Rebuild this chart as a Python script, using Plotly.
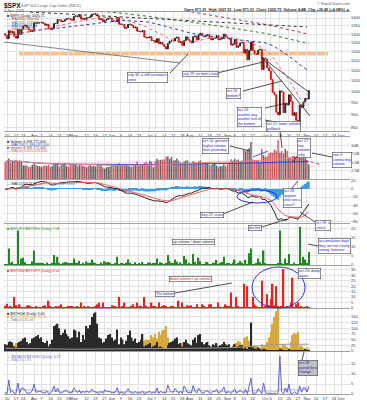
import numpy as np
import pandas as pd
import plotly.graph_objects as go

W, H = 367, 400
def px(v): return v / W
def py(v): return 1 - v / H

HOLIDAYS = {"2008-03-21", "2008-05-26", "2008-07-04", "2008-09-01", "2008-11-27", "2008-12-25"}
all_days = [d for d in pd.bdate_range("2008-03-07", "2008-12-31") if d.strftime("%Y-%m-%d") not in HOLIDAYS]
day_index = {d.strftime("%Y-%m-%d"): i for i, d in enumerate(all_days)}

prev_close_mar6 = 1304.34
close = [
    # Mar
    1293.4, 1273.4, 1320.7, 1308.8, 1315.5, 1288.1, 1276.6, 1330.7, 1298.4, 1329.5, 1349.9, 1353.0, 1341.1, 1325.8, 1315.2, 1322.7,
    # Apr
    1370.2, 1367.5, 1369.3, 1370.4, 1372.5, 1365.5, 1354.5, 1360.6, 1332.8, 1328.3, 1334.4, 1364.7, 1365.6, 1390.3, 1388.2, 1375.9,
    1379.9, 1388.8, 1397.8, 1396.4, 1390.9, 1385.6,
    # May
    1409.3, 1413.9, 1407.5, 1418.3, 1392.6, 1397.7, 1388.3, 1403.6, 1403.0, 1408.7, 1423.6, 1425.4, 1426.6, 1413.4, 1390.7, 1394.4,
    1375.9, 1385.4, 1390.8, 1398.3, 1400.4,
    # Jun
    1385.7, 1377.7, 1377.2, 1404.1, 1360.7, 1361.8, 1358.4, 1335.5, 1339.9, 1360.0, 1360.1, 1350.9, 1337.8, 1342.8, 1317.9, 1318.0,
    1314.3, 1322.0, 1283.2, 1278.4, 1280.0,
    # Jul
    1284.9, 1261.5, 1262.9, 1252.3, 1273.7, 1244.7, 1253.4, 1239.5, 1228.3, 1214.9, 1245.4, 1260.3, 1260.7, 1260.0, 1277.0, 1282.2,
    1252.5, 1257.8, 1234.4, 1263.2, 1284.3, 1267.4,
    # Aug
    1260.3, 1249.0, 1284.9, 1289.2, 1266.1, 1296.3, 1305.3, 1289.6, 1285.8, 1292.9, 1298.2, 1278.6, 1266.7, 1274.5, 1277.7, 1292.2,
    1266.8, 1271.5, 1281.7, 1300.7, 1282.8,
    # Sep
    1277.6, 1275.0, 1236.8, 1242.3, 1267.8, 1224.5, 1232.0, 1249.1, 1251.7, 1192.7, 1213.6, 1156.4, 1206.5, 1255.1, 1207.1, 1188.2,
    1185.9, 1209.2, 1213.3, 1106.4, 1166.4,
    # Oct
    1161.1, 1114.3, 1099.2, 1056.9, 996.2, 984.9, 909.9, 899.2, 1003.4, 998.0, 907.8, 946.4, 940.6, 985.4, 955.1, 896.8,
    908.1, 876.8, 848.9, 940.5, 930.1, 954.1, 968.8,
    # Nov
    966.3, 1005.75,
]

volume_b = [
    5.0, 5.5, 6.1, 4.8, 5.3, 5.2, 5.7, 5.3, 5.6, 5.1, 4.0, 4.1, 4.0, 3.6, 3.7, 4.2,
    4.6, 4.2, 3.9, 3.8, 3.5, 3.9, 4.1, 3.9, 4.2, 3.6, 3.9, 4.6, 4.6, 4.7, 3.7, 4.3, 4.5, 4.7, 3.9, 3.6, 4.2, 4.5,
    4.4, 4.4, 3.9, 4.1, 4.1, 3.9, 3.8, 3.5, 3.9, 4.2, 3.8, 3.9, 3.7, 4.2, 4.5, 4.1, 3.5, 3.1, 3.5, 3.6, 3.7,
    3.9, 4.2, 4.3, 4.4, 4.7, 4.0, 4.1, 4.3, 4.4, 4.0, 3.7, 3.6, 4.1, 4.2, 5.2, 3.9, 4.2, 4.4, 4.8, 5.2, 4.6,
    5.4, 5.2, 3.5, 5.3, 6.0, 5.6, 5.7, 5.8, 5.8, 6.7, 6.8, 6.0, 6.6, 5.5, 5.6, 6.1, 5.5, 4.9, 4.7, 5.2, 5.6, 5.5,
    4.7, 4.6, 5.3, 5.1, 4.7, 5.3, 5.5, 4.7, 4.8, 4.8, 4.7, 4.1, 4.2, 4.5, 4.6, 4.0, 3.6, 3.8, 3.9, 4.4, 3.8,
    4.4, 4.8, 5.9, 5.5, 6.0, 5.6, 5.8, 5.3, 5.5, 8.6, 8.3, 8.8, 9.2, 11.0, 5.8, 5.6, 5.6, 5.7, 5.1, 9.0, 7.1,
    6.6, 6.7, 7.6, 7.9, 7.8, 8.8, 8.3, 11.5, 7.8, 8.3, 7.5, 9.0, 8.3, 6.4, 6.3, 6.8, 6.8, 6.6, 6.6, 7.7, 7.1, 7.0, 6.6,
    5.6, 4.4,
]

up_dn_ratio = [
    0.5, 0.25, 9.0, 0.6, 1.8, 0.1, 0.4, 19.0, 0.3, 3.5, 4.0, 1.5, 0.5, 0.4, 0.5, 2.0,
    8.0, 0.8, 1.3, 1.1, 1.2, 0.6, 0.4, 1.4, 0.15, 0.5, 1.3, 5.5, 1.0, 4.5, 0.7, 0.3, 1.2, 1.5, 1.7, 0.8, 0.6, 0.6,
    3.5, 1.4, 0.6, 2.3, 0.2, 1.3, 0.5, 2.0, 0.7, 1.3, 3.0, 1.4, 1.0, 0.3, 0.2, 1.4, 0.2, 2.1, 1.4, 1.6, 1.3,
    0.4, 0.5, 0.8, 4.5, 0.1, 1.1, 0.6, 0.2, 1.2, 3.0, 1.2, 0.5, 0.3, 1.5, 0.2, 0.6, 0.5, 1.6, 0.1, 0.5, 1.2,
    1.4, 0.2, 0.9, 0.6, 3.6, 0.2, 1.5, 0.6, 0.4, 0.6, 5.5, 2.2, 0.9, 0.8, 3.0, 1.8, 0.15, 1.4, 0.2, 5.0, 3.2, 0.4,
    0.6, 0.4, 6.0, 1.6, 0.3, 4.0, 2.0, 0.3, 0.5, 1.6, 1.7, 0.3, 0.3, 1.3, 1.2, 2.8, 0.2, 1.3, 1.7, 4.5, 0.3,
    0.8, 1.0, 0.07, 1.3, 3.0, 0.1, 1.0, 2.2, 1.2, 0.045, 2.8, 0.05, 6.5, 9.0, 0.1, 0.3, 0.6, 3.5, 1.5, 0.04, 8.0,
    0.6, 0.08, 0.4, 0.12, 0.045, 0.4, 0.05, 0.6, 19.0, 1.0, 0.028, 3.5, 0.7, 6.0, 0.2, 0.036, 1.3, 0.3, 0.2, 21.0, 0.8, 4.5, 3.0,
    0.9, 7.08,
]

new_highs = [
    30, 25, 40, 42, 38, 20, 15, 35, 40, 45, 55, 60, 40, 30, 35, 55,
    60, 65, 70, 55, 60, 40, 35, 45, 20, 30, 50, 110, 115, 120, 100, 70, 80, 95, 75, 65, 55, 60,
    95, 90, 60, 85, 40, 70, 50, 110, 100, 115, 150, 165, 170, 120, 60, 55, 35, 40, 55, 70, 75,
    60, 45, 50, 95, 30, 60, 50, 30, 45, 70, 90, 60, 45, 55, 35, 40, 50, 75, 20, 25, 30,
    35, 15, 20, 25, 40, 15, 20, 15, 10, 8, 25, 35, 40, 45, 55, 60, 30, 35, 20, 40, 50, 35,
    30, 25, 50, 60, 35, 70, 75, 40, 30, 35, 40, 25, 20, 30, 25, 35, 20, 25, 30, 40, 30,
    25, 30, 15, 20, 30, 15, 20, 25, 25, 10, 15, 8, 20, 125, 15, 10, 10, 15, 10, 3, 8,
    5, 3, 3, 2, 1, 2, 1, 1, 8, 5, 1, 3, 2, 6, 3, 1, 2, 1, 1, 3, 2, 4, 5,
    4, 3,
]

new_lows = [
    20, 30, 15, 18, 12, 25, 35, 10, 15, 8, 6, 5, 8, 10, 12, 8,
    5, 4, 4, 4, 3, 5, 6, 5, 8, 9, 6, 3, 3, 2, 3, 4, 4, 3, 3, 3, 4, 4,
    3, 2, 3, 2, 4, 3, 4, 2, 3, 2, 2, 1, 2, 3, 5, 4, 6, 4, 3, 3, 3,
    5, 6, 6, 4, 10, 10, 12, 16, 12, 8, 8, 10, 16, 14, 22, 25, 28, 24, 45, 50, 48,
    50, 70, 60, 75, 55, 85, 70, 90, 95, 110, 60, 40, 35, 30, 20, 18, 30, 28, 35, 20, 15, 18,
    20, 22, 12, 10, 15, 10, 8, 12, 14, 10, 9, 15, 18, 14, 12, 10, 14, 12, 10, 8, 10,
    12, 14, 18, 20, 15, 35, 45, 40, 30, 55, 60, 65, 45, 15, 20, 25, 22, 18, 15, 30, 20,
    25, 40, 60, 85, 120, 150, 175, 190, 20, 15, 30, 25, 18, 12, 40, 70, 80, 75, 85, 20, 25, 15, 12,
    15, 10,
]

adv_dec = [
    0.6, 0.3, 7.0, 0.7, 1.6, 0.3, 0.5, 5.5, 0.3, 2.8, 3.0, 1.6, 0.5, 0.4, 0.6, 1.7,
    5.0, 0.9, 1.2, 1.3, 1.1, 0.6, 0.4, 1.5, 0.2, 0.5, 1.3, 4.0, 1.0, 3.0, 0.8, 0.4, 1.1, 1.6, 1.8, 0.9, 0.6, 0.7,
    3.0, 1.5, 0.7, 2.0, 0.3, 1.4, 0.6, 1.8, 0.8, 1.2, 2.5, 1.3, 1.0, 0.4, 0.3, 1.3, 0.3, 2.0, 1.4, 1.5, 1.2,
    0.5, 0.6, 0.9, 3.2, 0.2, 1.0, 0.6, 0.3, 1.2, 2.6, 1.1, 0.5, 0.4, 1.3, 0.3, 0.7, 0.6, 1.5, 0.2, 0.6, 1.1,
    1.3, 0.3, 0.9, 0.7, 3.0, 0.3, 1.4, 0.7, 0.5, 0.6, 4.5, 2.0, 1.0, 0.9, 2.8, 1.7, 0.3, 1.3, 0.3, 4.0, 2.6, 0.6,
    0.7, 0.5, 4.2, 1.5, 0.4, 3.0, 1.8, 0.4, 0.6, 1.5, 1.6, 0.4, 0.4, 1.3, 1.2, 2.4, 0.3, 1.2, 1.6, 3.5, 0.4,
    0.9, 1.0, 0.2, 1.3, 2.6, 0.2, 1.0, 2.0, 1.2, 0.2, 2.4, 0.1, 4.0, 8.0, 0.2, 0.4, 0.6, 2.8, 1.4, 0.1, 5.5,
    0.7, 0.2, 0.5, 0.3, 0.1, 0.5, 0.1, 0.7, 19.0, 1.0, 0.1, 3.0, 0.8, 5.0, 0.3, 0.2, 1.2, 0.4, 0.3, 4.0, 0.9, 3.2, 3.0,
    1.0, 3.72,
]

# long moving averages (anchor points)
ma200_dates = ["2008-03-07", "2008-04-01", "2008-05-01", "2008-06-02", "2008-07-01", "2008-08-01", "2008-09-02", "2008-10-01", "2008-11-04"]
ma200_vals = [1480, 1465, 1450, 1438, 1410, 1375, 1342, 1305, 1245]
ma300_dates = ["2008-07-01", "2008-08-01", "2008-09-02", "2008-10-01", "2008-11-04"]
ma300_vals = [1478, 1442, 1400, 1360, 1300]
hl_ma_dates = ["2008-03-07", "2008-05-01", "2008-07-01", "2008-08-01", "2008-09-02", "2008-09-22", "2008-10-06", "2008-10-20", "2008-11-04"]
hl_ma_vals = [12, 8, 10, 12, 14, 20, 28, 30, 30]

n = len(close)
for arr in (volume_b, up_dn_ratio, new_highs, new_lows, adv_dec):
    assert len(arr) == n, (len(arr), n)
xs = list(range(n))
opens = [prev_close_mar6] + close[:-1]
highs = [max(a, b) for a, b in zip(opens, close)]
lows = [min(a, b) for a, b in zip(opens, close)]
s = pd.Series(close)
ma20 = s.rolling(20, min_periods=1).mean()
ma50 = s.rolling(50, min_periods=1).mean()
vol = pd.Series(volume_b) * 1e9
vol_ma50 = vol.rolling(50, min_periods=1).mean()
vol_ma200 = vol.rolling(200, min_periods=1).mean()
ema12 = s.ewm(span=12, adjust=False).mean()
ema26 = s.ewm(span=26, adjust=False).mean()
macd = ema12 - ema26
signal = macd.ewm(span=9, adjust=False).mean()
hist = macd - signal
dn_up_ratio = [1.0 / v for v in up_dn_ratio]
ad_ma = pd.Series(adv_dec).rolling(20, min_periods=1).mean()
down_day = [c < o for c, o in zip(close, opens)]

# ---- x ticks (trading-day index axis) ----
MONTHS = ["Jan", "Feb", "Mar", "Apr", "May", "Jun", "Jul", "Aug", "Sep", "Oct", "Nov", "Dec"]
month_starts = [i for i in range(1, len(all_days)) if all_days[i].month != all_days[i - 1].month]
week_starts = [i for i in range(1, len(all_days)) if all_days[i].isocalendar()[1] != all_days[i - 1].isocalendar()[1]]
XMAX = 190.8
tickvals, ticktext = [], []
for i in sorted(set(month_starts) | set(week_starts)):
    if i > XMAX:
        continue
    if i in month_starts:
        tickvals.append(i); ticktext.append(MONTHS[all_days[i].month - 1])
    elif not any(abs(i - m) <= 2 for m in month_starts):
        tickvals.append(i); ticktext.append(str(all_days[i].day))

# ---- panels ----
panels = [(12, 131), (137, 179), (180, 223), (224, 265), (266, 308), (309, 351), (352, 394)]
FONT = "Liberation Sans"
GRID = "#e2e2e2"
fig = go.Figure()

def ax(k):
    return ("x" if k == 1 else f"x{k}"), ("y" if k == 1 else f"y{k}")

# price
xa, ya = ax(1)
fig.add_trace(go.Candlestick(x=xs, open=opens, high=highs, low=lows, close=close, xaxis=xa, yaxis=ya,
                             increasing=dict(line=dict(color="#222", width=1), fillcolor="#555"),
                             decreasing=dict(line=dict(color="#e01010", width=1), fillcolor="#e01010"),
                             whiskerwidth=0, showlegend=False))
fig.add_trace(go.Scatter(x=[day_index[d] for d in ma200_dates], y=ma200_vals, mode="lines", xaxis=xa, yaxis=ya,
                         line=dict(color="#2e7d32", width=1, dash="dot"), showlegend=False))
fig.add_trace(go.Scatter(x=[day_index[d] for d in ma300_dates], y=ma300_vals, mode="lines", xaxis=xa, yaxis=ya,
                         line=dict(color="#9a3b3b", width=1, dash="dot"), showlegend=False))
fig.add_trace(go.Scatter(x=xs, y=ma50, mode="lines", xaxis=xa, yaxis=ya,
                         line=dict(color="#2233cc", width=1, dash="dot"), showlegend=False))
fig.add_trace(go.Scatter(x=xs, y=ma20, mode="lines", xaxis=xa, yaxis=ya,
                         line=dict(color="#ff6060", width=1, dash="dot"), showlegend=False))

# volume
xa, ya = ax(2)
fig.add_trace(go.Bar(x=xs, y=vol, xaxis=xa, yaxis=ya, width=0.8,
                     marker=dict(color=["rgba(200,50,60,0.8)" if d else "rgba(70,70,70,0.85)" for d in down_day], line=dict(width=0)),
                     showlegend=False))
fig.add_trace(go.Scatter(x=xs, y=vol_ma200, mode="lines", xaxis=xa, yaxis=ya, line=dict(color="#3344cc", width=1), showlegend=False))
fig.add_trace(go.Scatter(x=xs, y=vol_ma50, mode="lines", xaxis=xa, yaxis=ya, line=dict(color="#ff8080", width=1), showlegend=False))

# MACD
xa, ya = ax(3)
fig.add_trace(go.Bar(x=xs, y=hist, xaxis=xa, yaxis=ya, width=1.0, marker=dict(color="#3d9be0", line=dict(width=0)), showlegend=False))
fig.add_trace(go.Scatter(x=xs, y=macd, mode="lines", xaxis=xa, yaxis=ya, line=dict(color="#222", width=1), showlegend=False))
fig.add_trace(go.Scatter(x=xs, y=signal, mode="lines", xaxis=xa, yaxis=ya, line=dict(color="#ff5a5a", width=1), showlegend=False))

# up/down volume
xa, ya = ax(4)
fig.add_trace(go.Bar(x=xs, y=up_dn_ratio, xaxis=xa, yaxis=ya, width=0.8, marker=dict(color="#1f8a1f", line=dict(width=0)), showlegend=False))
xa, ya = ax(5)
fig.add_trace(go.Bar(x=xs, y=dn_up_ratio, xaxis=xa, yaxis=ya, width=0.8, marker=dict(color="#ff1a1a", line=dict(width=0)), showlegend=False))

# new highs / lows
xa, ya = ax(6)
fig.add_trace(go.Bar(x=xs, y=new_lows, xaxis=xa, yaxis=ya, width=0.8, marker=dict(color="#d9a83c", line=dict(width=0)), showlegend=False))
fig.add_trace(go.Bar(x=xs, y=new_highs, xaxis=xa, yaxis=ya, width=0.8, marker=dict(color="#2a2a2a", line=dict(width=0)), showlegend=False))
fig.add_trace(go.Scatter(x=[day_index[d] for d in hl_ma_dates], y=hl_ma_vals, mode="lines", xaxis=xa, yaxis=ya,
                         line=dict(color="#999", width=1), showlegend=False))

# adv / dec
xa, ya = ax(7)
fig.add_trace(go.Scatter(x=xs, y=ad_ma, mode="lines", xaxis=xa, yaxis=ya, line=dict(color="#b0b0e8", width=1), showlegend=False))
fig.add_trace(go.Scatter(x=xs, y=adv_dec, mode="lines", xaxis=xa, yaxis=ya, line=dict(color="#6060d0", width=1), showlegend=False))

yconf = {
    1: dict(type="log", range=[np.log10(835), np.log10(1439)], tickvals=list(range(850, 1401, 50))),
    2: dict(range=[0, 12.5e9], tickvals=[2.5e9, 5e9, 7.5e9, 10e9], ticktext=["2.5B", "5.0B", "7.5B", "10B"]),
    3: dict(range=[-84, 22], tickvals=[-80, -60, -40, -20, 0, 20]),
    4: dict(range=[0, 22.5], tickvals=[0, 5, 10, 15, 20]),
    5: dict(range=[0, 38.5], tickvals=list(range(0, 36, 5))),
    6: dict(range=[0, 185], tickvals=list(range(0, 151, 25))),
    7: dict(range=[0, 21], tickvals=[0, 5, 10, 15]),
}
layout = dict(width=W, height=H, margin=dict(l=0, r=0, t=0, b=0), paper_bgcolor="white", plot_bgcolor="white",
              barmode="overlay", showlegend=False, font=dict(family=FONT, size=4, color="#333"))
for k, (t, b) in enumerate(panels, start=1):
    xk = "xaxis" if k == 1 else f"xaxis{k}"
    yk = "yaxis" if k == 1 else f"yaxis{k}"
    layout[xk] = dict(domain=[px(4), px(350)], range=[-0.66, XMAX], anchor=ax(k)[1],
                      tickvals=tickvals, ticktext=ticktext, showticklabels=(k in (1, 7)), ticks="",
                      tickangle=0, tickfont=dict(size=4, color="#333"), showgrid=True, gridcolor=GRID, gridwidth=1,
                      showline=True, mirror=True, linecolor="#a0a0a0", linewidth=1, zeroline=False,
                      rangeslider=dict(visible=False), automargin=False)
    if k != 1:
        layout[xk]["matches"] = "x"
    layout[yk] = dict(domain=[py(b), py(t)], anchor=ax(k)[0], side="right", tickfont=dict(size=4, color="#333"),
                      showgrid=True, gridcolor=GRID, gridwidth=1, zeroline=False, ticks="", automargin=False, **yconf[k])
fig.update_layout(**layout)

shapes = []
def line(x0, y0, x1, y1, color="#222", width=0.8, dash="solid"):
    shapes.append(dict(type="line", xref="paper", yref="paper", x0=px(x0), y0=py(y0), x1=px(x1), y1=py(y1),
                       line=dict(color=color, width=width, dash=dash)))
def ellipse(x0, y0, x1, y1):
    shapes.append(dict(type="circle", xref="paper", yref="paper", x0=px(x0), y0=py(y1), x1=px(x1), y1=py(y0),
                       line=dict(color="#2a2af0", width=1)))

# orange resistance band
shapes.append(dict(type="rect", xref="paper", yref="paper", x0=px(19), x1=px(328), y0=py(55.5), y1=py(51.5),
                   fillcolor="#f5c18c", line=dict(width=0), layer="below"))
# trend lines
line(30, 12, 307, 27, "#333", 1, "dot")
line(4, 42, 180, 63, "#666", 0.8)
line(262, 57, 310, 116)
line(268, 62, 310, 93)

annotations = []
def text(x0, y0, txt, size=4, color="#333", anchor="left", bold=False):
    annotations.append(dict(x=px(x0), y=py(y0), xref="paper", yref="paper", xanchor=anchor, yanchor="top",
                            text=(f"<b>{txt}</b>" if bold else txt), showarrow=False,
                            font=dict(size=size, color=color, family=FONT)))
def box(x0, y0, txt, color="#2020c0", bg="white"):
    annotations.append(dict(x=px(x0), y=py(y0), xref="paper", yref="paper", xanchor="left", yanchor="top",
                            text=txt, showarrow=False, align="left", bgcolor=bg, bordercolor="#444",
                            borderwidth=0.6, borderpad=0.5, font=dict(size=3.6, color=color, family=FONT)))

# header
text(2, 0, "$SPX", 6.5, "#111", bold=True)
text(19, 1.2, "S&P 500 Large Cap Index (INDX)", 4, "#666")
text(2, 7, "4-Nov-2008", 3.8, "#555")
text(352, 0, "© StockCharts.com", 3.8, "#555", anchor="right")
text(352, 6.3, "Open 971.31  High 1007.51  Low 971.31  Close 1005.75  Volume 4.4B  Chg +39.45 (+4.08%) ▲", 3.8, "#222", anchor="right", bold=True)

# panel legends
LS = 3.6
text(5, 12.3, "■ $SPX (Daily) 1005.75", LS, "#222")
text(5, 15.5, "--- MA(300) 1301.62", LS, "#9a3b3b")
text(5, 18.7, "--- MA(200) 1245.40", LS, "#2e7d32")
text(5, 21.9, "--- MA(50) 1103.54", LS, "#2233cc")
text(5, 25.1, "--- MA(20) 956.89", LS, "#ff5050")
text(5, 137.5, "■ Volume 4,398,772,000", LS, "#222")
text(5, 140.7, "— MA(200) 5,384,031,000", LS, "#3344cc")
text(5, 143.9, "■ Volume 4,398,772,000", LS, "#555")
text(5, 147.1, "— MA(50) 6,825,120,000", LS, "#ff5050")
text(5, 180.5, "— MACD(12,26,9) <span style='color:#ff5050'>-50.793</span>, <span style='color:#3d9be0'>-59.134, 8.341</span>", LS, "#222")
text(5, 224.5, "■ $NYUPV:$NYDNV (Daily) 7.08", LS, "#1f8a1f")
text(5, 266.5, "■ $NYDNV:$NYUPV (Daily) 0.14", LS, "#e01010")
text(5, 309.5, "■ $NYHGH (Daily) 3.00", LS, "#222")
text(5, 312.7, "■ $NYLOW (Daily) 20.00", LS, "#d9a83c")
text(5, 315.9, "— MA(50) 30.46", LS, "#888")
text(5, 352.5, "— $NYADV:$NYDEC (Daily) 3.72", LS, "#6060d0")
text(5, 355.7, "— MA(20) 1.85", LS, "#9090d8")

# commentary boxes
box(127, 72, "sep 30: a stiff resistance<br>zone")
line(170, 73, 188, 54)
box(182, 71, "sep 29: no man's land")
line(217, 73, 263, 62)
box(226, 88, "oct 24<br>bottom?")
line(243, 91, 282, 81)
box(237, 107, "oct 24:<br>another day,<br>another test of<br>the bottom")
line(265, 108, 287, 103)
line(265, 120, 300, 127)

box(202, 137.5, "oct 10: genuine<br>higher volume<br>than yesterday")
line(230, 146, 250, 151)
line(253, 157, 268, 151, "#2a2af0")
box(266, 121.5, "oct 17: lower volume<br>pullback")
line(280, 131, 282, 148)
box(297, 137.5, "oct 27:<br>low<br>volume<br>rally")
line(300, 152, 293, 162)
box(332, 152, "nov 4:<br>contracting<br>volume")
line(332, 157, 312, 153)
line(293, 157, 322, 165, "#ff3030", 1, "dot")

box(283, 188, "oct 28:<br>anyone<br>else see a<br>cross?")
line(292, 188, 298, 181)
ellipse(237, 190, 277, 203)
box(200, 212, "Sep 29: cross")
line(223, 214, 253, 202)
box(315, 220, "oct 28: a<br>check")
line(315, 222, 300, 212)

box(248, 225, "decline")
line(262, 227, 287, 219)
box(172, 239, "up volume / down volume", color="#222")
box(318, 238, "accumulation days:<br>they are not clearly<br>strong, however")
line(318, 246, 308, 244)

box(169, 276, "down volume / up volume", color="#e01010")
box(155, 291, "The bottom")
line(175, 293, 232, 283)
ellipse(252, 267, 305, 308)
box(298, 268, "oct 24: dump<br>again")

box(298, 360, "oct 28:<br>paved for a<br>change", bg="#c0c0c0")
line(302, 360, 304, 352)

fig.update_layout(shapes=shapes, annotations=annotations)
fig.write_html("out.html")
